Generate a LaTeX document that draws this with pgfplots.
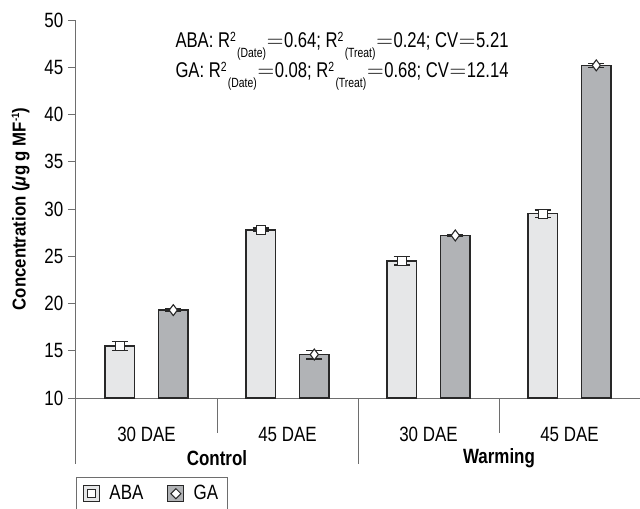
\documentclass[border=0pt]{standalone}
\usepackage{fontspec}
\setmainfont{Liberation Sans}[FakeStretch=0.82]
\newfontfamily\labelfont{Liberation Sans}[FakeStretch=0.9]
\newfontfamily\annfont{Liberation Sans}[FakeStretch=0.78]
\usepackage{pgfplots}
\pgfplotsset{compat=1.18}
\definecolor{abafill}{RGB}{230,231,232}
\definecolor{gafill}{RGB}{177,179,182}
\definecolor{edge}{RGB}{40,40,40}
\definecolor{axisgray}{RGB}{110,110,110}
\newcommand{\Rsq}[1]{R\raisebox{5pt}{\fontsize{10}{10}\selectfont 2}\hspace{1pt}\raisebox{-7pt}{\fontsize{10}{10}\selectfont(#1)}}
\newcommand{\eq}{\hspace{0.5pt}$=$\hspace{0.5pt}}
\begin{document}
\begin{tikzpicture}
\path[use as bounding box] (-57pt,-82.5pt) rectangle (423pt,298.5pt);
\begin{axis}[
  at={(0,0)}, anchor=south west,
  width=423pt, height=283.5pt, scale only axis,
  xmin=-0.5, xmax=3.5, ymin=10, ymax=50,
  axis lines=left,
  axis line style={-, draw=axisgray, line width=0.75pt},
  clip mode=individual,
  ytick={10,15,...,50},
  tick align=outside,
  major tick length=6pt,
  y tick style={draw=axisgray, line width=0.75pt},
  xtick={0,1,2,3},
  xticklabels={30 DAE,45 DAE,30 DAE,45 DAE},
  x tick style={draw=none},
  xticklabel style={anchor=center, yshift=-21.5pt},
  ticklabel style={font=\fontsize{15.5}{18}\selectfont},
  /pgf/number format/assume math mode=true,
  ylabel={\labelfont\bfseries Concentration ({\itshape μ}g g MF\raisebox{5pt}{\fontsize{8}{8}\selectfont -1})},
  ylabel style={at={(axis description cs:0,0.5)}, yshift=41.5pt, anchor=center, font=\fontsize{14}{16}\selectfont},
  legend columns=2,
  legend style={at={(axis description cs:0,0)}, anchor=north west, yshift=-59.25pt,
    draw=axisgray, line width=0.75pt, inner xsep=5pt, inner ysep=4pt,
    font=\fontsize{15.5}{18}\selectfont,
    /tikz/every odd column/.append style={column sep=5pt},
    /tikz/every even column/.append style={column sep=16pt}},
]
\addplot[ybar, bar width=0.211, bar shift=-0.19, fill=abafill, draw=edge, line width=1.1pt, forget plot]
  coordinates {(0,15.5) (1,27.8) (2,24.5) (3,29.5)};
\addplot[ybar, bar width=0.211, bar shift=0.19, fill=gafill, draw=edge, line width=1.1pt, forget plot]
  coordinates {(0,19.3) (1,14.6) (2,27.2) (3,45.2)};
\addplot[only marks, mark=square*, mark size=3.3pt,
  mark options={fill=white, draw=edge, line width=0.8pt}, forget plot,
  error bars/.cd, y dir=both, y explicit,
  error bar style={draw=edge, line width=1.1pt},
  error mark options={rotate=90, mark size=6pt, draw=edge, line width=1.1pt}]
  coordinates {(-0.19,15.5) +- (0,0.5) (0.81,27.8) +- (0,0.2) (1.81,24.5) +- (0,0.45) (2.81,29.5) +- (0,0.4)};
\addplot[only marks, mark=diamond*, mark size=4.1pt,
  mark options={fill=white, draw=edge, line width=0.8pt}, forget plot,
  error bars/.cd, y dir=both, y explicit,
  error bar style={draw=edge, line width=1.1pt},
  error mark options={rotate=90, mark size=6pt, draw=edge, line width=1.1pt}]
  coordinates {(0.19,19.3) +- (0,0.15) (1.19,14.6) +- (0,0.45) (2.19,27.2) +- (0,0.1) (3.19,45.2) +- (0,0.2)};
\addlegendimage{legend image code/.code={
  \draw[draw=edge, fill=abafill, line width=0.75pt] (0pt,-6pt) rectangle (12pt,6pt);
  \draw[draw=edge, fill=white, line width=0.75pt] (3.2pt,-2.8pt) rectangle (8.8pt,2.8pt);}}
\addlegendentry{ABA}
\addlegendimage{legend image code/.code={
  \draw[draw=edge, fill=gafill, line width=0.75pt] (0pt,-6pt) rectangle (12pt,6pt);
  \draw[draw=edge, fill=white, line width=0.75pt] (6pt,-3.8pt) -- (9.8pt,0pt) -- (6pt,3.8pt) -- (2.2pt,0pt) -- cycle;}}
\addlegendentry{GA}
\node[anchor=base west, font=\annfont\fontsize{16}{18}\selectfont, inner sep=0pt] at (axis cs:0.204,47.04)
  {ABA: \Rsq{Date}\eq0.64; \Rsq{Treat}\eq0.24; CV\eq5.21};
\node[anchor=base west, font=\annfont\fontsize{16}{18}\selectfont, inner sep=0pt] at (axis cs:0.204,43.87)
  {GA: \Rsq{Date}\eq0.08; \Rsq{Treat}\eq0.68; CV\eq12.14};
\end{axis}
\begin{scope}[draw=axisgray, line width=0.75pt]
\draw (0,0) -- (0,-49.5pt);
\draw (211.5pt,0) -- (211.5pt,-49.5pt);
\draw (105.75pt,0) -- (105.75pt,-26.25pt);
\draw (317.25pt,0) -- (317.25pt,-26.25pt);
\end{scope}
\node[font=\fontsize{15.5}{18}\selectfont\bfseries] at (105.75pt,-45pt) {Control};
\node[font=\fontsize{15.5}{18}\selectfont\bfseries] at (317.25pt,-45pt) {Warming};
\end{tikzpicture}
\end{document}
